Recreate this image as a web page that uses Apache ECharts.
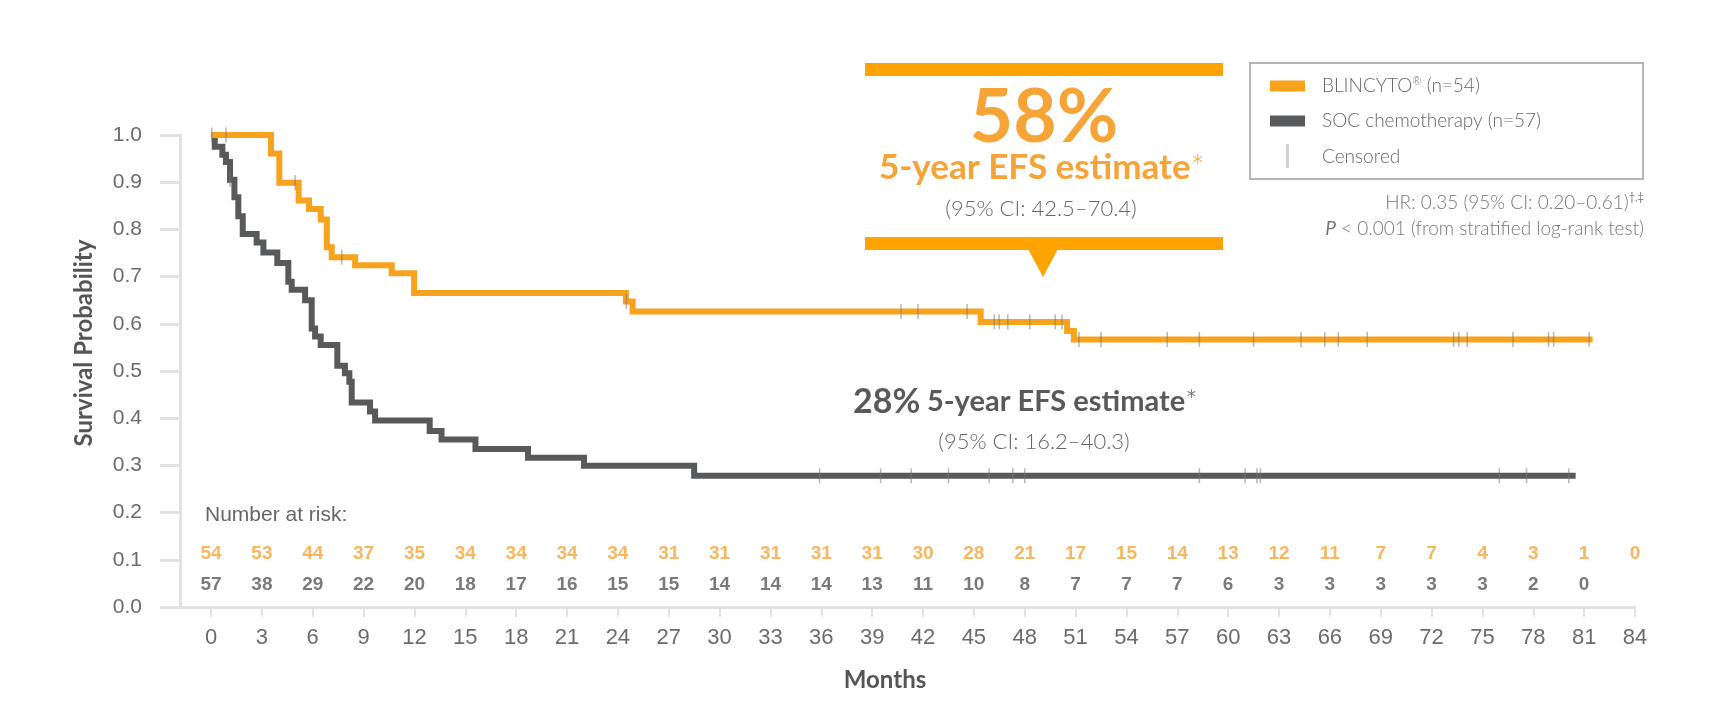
<!DOCTYPE html>
<html>
<head>
<meta charset="utf-8">
<title>EFS Kaplan-Meier</title>
<script src="https://cdn.jsdelivr.net/npm/echarts@6.0.0/dist/echarts.min.js"></script>
<style>
  html, body { margin: 0; padding: 0; background: #fff; }
  #chart-km { width: 1726px; height: 714px; }
</style>
</head>
<body>
<div id="chart-km"></div>
<script>
// Kaplan-Meier steps (months, survival probability)
var blinTimes = [0, 3.54, 4.03, 5.17, 5.78, 6.47, 6.83, 7.12, 8.5, 10.66, 11.98, 24.47, 24.87, 45.4, 50.5, 50.9, 81.5];
var blinSurv  = [1.0, 0.961, 0.899, 0.861, 0.843, 0.821, 0.762, 0.741, 0.724, 0.707, 0.665, 0.647, 0.626, 0.604, 0.585, 0.567, 0.567];

var socTimes = [0, 0.22, 0.67, 0.88, 1.12, 1.38, 1.61, 1.87, 2.69, 3.09, 3.91, 4.56, 4.76, 5.55, 5.94, 6.14, 6.47, 7.45, 7.9, 8.16, 8.3, 9.38, 9.68, 12.9, 13.6, 15.6, 18.7, 22.0, 28.5, 80.5];
var socSurv  = [1.0, 0.975, 0.958, 0.943, 0.905, 0.868, 0.828, 0.790, 0.772, 0.751, 0.729, 0.689, 0.672, 0.650, 0.590, 0.573, 0.555, 0.511, 0.495, 0.477, 0.433, 0.414, 0.395, 0.373, 0.355, 0.335, 0.316, 0.299, 0.278, 0.278];

// censored observations (months)
var blinCensor = [0.04, 0.88, 4.96, 7.71, 24.5, 40.7, 41.7, 44.6, 46.2, 46.5, 47.0, 48.3, 49.8, 50.2, 51.2, 52.5, 56.4, 58.3, 61.5, 64.3, 65.7, 66.5, 68.2, 73.3, 73.6, 74.1, 76.8, 78.9, 79.2, 81.3];
var socCensor  = [1.12, 35.9, 39.5, 41.3, 43.5, 45.9, 47.3, 48.0, 58.3, 61.0, 61.7, 61.9, 76.0, 77.6, 80.1];

// x ticks / number at risk
var xTicks = [0, 3, 6, 9, 12, 15, 18, 21, 24, 27, 30, 33, 36, 39, 42, 45, 48, 51, 54, 57, 60, 63, 66, 69, 72, 75, 78, 81, 84];
var blinRisk = [54, 53, 44, 37, 35, 34, 34, 34, 34, 31, 31, 31, 31, 31, 30, 28, 21, 17, 15, 14, 13, 12, 11, 7, 7, 4, 3, 1, 0];
var socRisk  = [57, 38, 29, 22, 20, 18, 17, 16, 15, 15, 14, 14, 14, 13, 11, 10, 8, 7, 7, 7, 6, 3, 3, 3, 3, 3, 2, 0];

var seriesNames = ['BLINCYTO® (n=54)', 'SOC chemotherapy (n=57)'];

var ORANGE = '#F8A21D';
var ORANGE_TXT = '#F6A437';
var ORANGE_BAR = '#FFA300';
var GREY = '#58595B';
var AXIS = '#e2e2e2';
var SANS = "'Liberation Sans', Arial, sans-serif";
var GEO = "Lato, 'Noto Sans', sans-serif";

function zip(t, s) {
    return t.map(function (v, i) { return [v, s[i]]; });
}

// value of the step curve at time t
function survAt(times, surv, t) {
    var v = surv[0];
    for (var i = 0; i < times.length; i++) {
        if (times[i] <= t) v = surv[i];
    }
    return v;
}

var censorData = blinCensor.map(function (t) { return [t, survAt(blinTimes, blinSurv, t)]; })
    .concat(socCensor.map(function (t) { return [t, survAt(socTimes, socSurv, t)]; }));

// rows of the risk table sit inside the plot
var RISK_Y_BLIN = 0.112, RISK_Y_SOC = 0.047;

function riskSeries(name, counts, y, color) {
    return {
        name: name,
        type: 'scatter',
        silent: true,
        symbolSize: 1,
        itemStyle: { color: 'rgba(0,0,0,0)' },
        z: 5,
        label: {
            show: true,
            position: 'inside',
            formatter: function (p) { return p.value[2]; },
            color: color,
            fontSize: 19,
            fontWeight: 'bold',
            fontFamily: SANS
        },
        data: counts.map(function (c, i) { return [xTicks[i], y, c]; })
    };
}

var kmChart = echarts.init(document.getElementById('chart-km'));

var option = {
    animation: false,
    backgroundColor: '#fff',
    grid: { left: 180, right: 91, top: 135, bottom: 107 },
    legend: {
        data: seriesNames,
        orient: 'vertical',
        left: 1270,
        top: 76,
        padding: 0,
        icon: 'rect',
        itemWidth: 35,
        itemHeight: 11,
        itemGap: 15,
        selectedMode: false,
        formatter: function (name) {
            return name.replace('®', '{sup|®}');
        },
        textStyle: {
            fontFamily: GEO,
            fontWeight: 300,
            fontSize: 19,
            lineHeight: 20,
            color: '#666',
            padding: [0, 0, 0, 12],
            rich: {
                sup: { fontSize: 11, verticalAlign: 'top', lineHeight: 20, color: '#666', fontFamily: GEO }
            }
        }
    },
    xAxis: {
        type: 'value',
        min: -1.83,
        max: 84,
        name: 'Months',
        nameLocation: 'middle',
        nameGap: 61,
        nameTextStyle: {
            fontFamily: GEO, fontWeight: 'bold', fontSize: 24, color: '#555',
            padding: [0, 45, 0, 0]
        },
        axisLine: { lineStyle: { color: AXIS, width: 3 } },
        axisTick: { show: true, length: 10, customValues: xTicks, lineStyle: { color: AXIS, width: 2 } },
        axisLabel: { customValues: xTicks, margin: 20, fontSize: 22, color: '#6b6b6b', fontFamily: SANS },
        splitLine: { show: false }
    },
    yAxis: {
        type: 'value',
        min: 0,
        max: 1,
        interval: 0.1,
        name: 'Survival Probability',
        nameLocation: 'middle',
        nameRotate: 90,
        nameGap: 84,
        nameTextStyle: {
            fontFamily: GEO, fontWeight: 'bold', fontSize: 24, color: '#555',
            padding: [0, 0, 0, 56]
        },
        axisLine: { show: true, onZero: false, lineStyle: { color: AXIS, width: 3 } },
        axisTick: { show: true, length: 20, lineStyle: { color: AXIS, width: 3 } },
        axisLabel: {
            margin: 38, fontSize: 21, color: '#6b6b6b', fontFamily: SANS,
            formatter: function (v) { return v.toFixed(1); }
        },
        splitLine: { show: false }
    },
    series: [
        {
            name: seriesNames[0],
            type: 'line',
            step: 'end',
            showSymbol: false,
            clip: false,
            z: 3,
            color: ORANGE,
            lineStyle: { color: ORANGE, width: 6, cap: 'butt', join: 'miter' },
            data: zip(blinTimes, blinSurv)
        },
        {
            name: seriesNames[1],
            type: 'line',
            step: 'end',
            showSymbol: false,
            clip: false,
            z: 2,
            color: GREY,
            lineStyle: { color: GREY, width: 6, cap: 'butt', join: 'miter' },
            data: zip(socTimes, socSurv)
        },
        {
            name: 'Censored',
            type: 'scatter',
            symbol: 'rect',
            symbolSize: [1.6, 15],
            clip: false,
            z: 4,
            itemStyle: { color: 'rgba(120,120,120,0.65)' },
            data: censorData
        },
        riskSeries('risk-blin', blinRisk, RISK_Y_BLIN, ORANGE_TXT),
        riskSeries('risk-soc', socRisk, RISK_Y_SOC, GREY)
    ],
    graphic: [
        // legend frame and censored entry
        { type: 'rect', shape: { x: 1250, y: 63, width: 393, height: 116 },
          style: { fill: 'none', stroke: '#b5b5b5', lineWidth: 2 } },
        { type: 'rect', shape: { x: 1286, y: 144, width: 3, height: 24 }, style: { fill: '#d0d0d0' } },
        { type: 'text', x: 1322, y: 157,
          style: { text: 'Censored', fontFamily: GEO, fontWeight: 300, fontSize: 19, fill: '#666', verticalAlign: 'middle' } },
        // hazard ratio
        { type: 'text', x: 1644, y: 203,
          style: {
              text: '{n|HR: 0.35 (95% CI: 0.20–0.61)}{s|†,‡}',
              align: 'right', verticalAlign: 'middle',
              rich: {
                  n: { fontFamily: GEO, fontWeight: 300, fontSize: 19, fill: '#777', lineHeight: 22 },
                  s: { fontFamily: GEO, fontSize: 11, fill: '#777', verticalAlign: 'top', lineHeight: 22 }
              }
          } },
        { type: 'text', x: 1644, y: 229,
          style: {
              text: '{i|P}{n| < 0.001 (from stratified log-rank test)}',
              align: 'right', verticalAlign: 'middle',
              rich: {
                  i: { fontFamily: GEO, fontStyle: 'italic', fontSize: 19, fill: '#777' },
                  n: { fontFamily: GEO, fontWeight: 300, fontSize: 19, fill: '#777' }
              }
          } },
        // BLINCYTO call-out
        { type: 'rect', shape: { x: 865, y: 63, width: 358, height: 13 }, style: { fill: ORANGE_BAR } },
        { type: 'rect', shape: { x: 865, y: 237, width: 358, height: 13 }, style: { fill: ORANGE_BAR } },
        { type: 'polygon', shape: { points: [[1028, 249], [1058, 249], [1043, 277]] }, style: { fill: ORANGE_BAR } },
        { type: 'text', x: 1044, y: 118,
          style: { text: '58%', fontFamily: GEO, fontWeight: 'bold', fontSize: 75, fill: ORANGE_TXT,
                   align: 'center', verticalAlign: 'middle' } },
        { type: 'text', x: 1042, y: 168,
          style: {
              text: '{b|5-year EFS estimate}{a|*}',
              align: 'center', verticalAlign: 'middle',
              rich: {
                  b: { fontFamily: GEO, fontWeight: 'bold', fontSize: 35, fill: ORANGE_TXT },
                  a: { fontFamily: GEO, fontWeight: 300, fontSize: 34, fill: ORANGE_TXT }
              }
          } },
        { type: 'text', x: 1041, y: 209,
          style: { text: '(95% CI: 42.5–70.4)', fontFamily: GEO, fontWeight: 300, fontSize: 22, fill: '#666',
                   align: 'center', verticalAlign: 'middle' } },
        // SOC estimate
        { type: 'text', x: 853, y: 402,
          style: {
              text: '{p|28%}  {b|5-year EFS estimate}{a|*}',
              align: 'left', verticalAlign: 'middle',
              rich: {
                  p: { fontFamily: GEO, fontWeight: 'bold', fontSize: 34, fill: GREY },
                  b: { fontFamily: GEO, fontWeight: 'bold', fontSize: 29, fill: GREY },
                  a: { fontFamily: GEO, fontWeight: 300, fontSize: 29, fill: GREY }
              }
          } },
        { type: 'text', x: 1034, y: 442,
          style: { text: '(95% CI: 16.2–40.3)', fontFamily: GEO, fontWeight: 300, fontSize: 22, fill: '#666',
                   align: 'center', verticalAlign: 'middle' } },
        // risk table caption
        { type: 'text', x: 205, y: 515,
          style: { text: 'Number at risk:', fontFamily: SANS, fontSize: 21, fill: '#666', verticalAlign: 'middle' } }
    ]
};

kmChart.setOption(option);
</script>
</body>
</html>
